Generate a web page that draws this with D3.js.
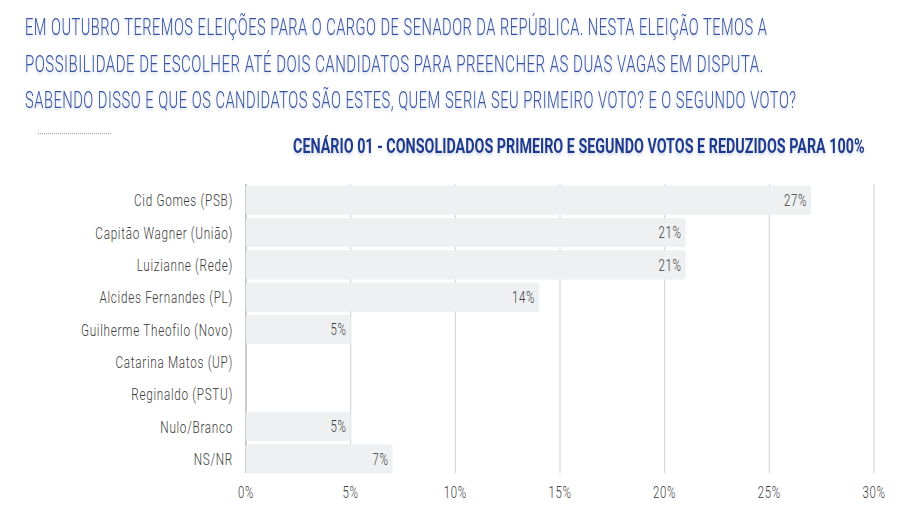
<!DOCTYPE html>
<html>
<head>
<meta charset="utf-8">
<script src="https://cdn.jsdelivr.net/npm/d3@7"></script>
<style>
  body { margin: 0; background: #fff; }
  text { font-family: "Roboto", "DejaVu Sans Condensed", sans-serif; }
</style>
</head>
<body>
<div id="chart"></div>
<script>
const categories = [
    "Cid Gomes (PSB)",
    "Capitão Wagner (União)",
    "Luizianne (Rede)",
    "Alcides Fernandes (PL)",
    "Guilherme Theofilo (Novo)",
    "Catarina Matos (UP)",
    "Reginaldo (PSTU)",
    "Nulo/Branco",
    "NS/NR"
];
const values = [27, 21, 21, 14, 5, 0, 0, 5, 7];
const ticks = [0, 5, 10, 15, 20, 25, 30];

const headerLines = [
    "EM OUTUBRO TEREMOS ELEIÇÕES PARA O CARGO DE SENADOR DA REPÚBLICA. NESTA ELEIÇÃO TEMOS A",
    "POSSIBILIDADE DE ESCOLHER ATÉ DOIS CANDIDATOS PARA PREENCHER AS DUAS VAGAS EM DISPUTA.",
    "SABENDO DISSO E QUE OS CANDIDATOS SÃO ESTES, QUEM SERIA SEU PRIMEIRO VOTO? E O SEGUNDO VOTO?"
];
const headerWidths = [743, 739, 772];
const title = "CENÁRIO 01 - CONSOLIDADOS PRIMEIRO E SEGUNDO VOTOS E REDUZIDOS PARA 100%";

const width = 924;
const height = 517;
const margin = { top: 184, bottom: 42, left: 246, right: 50 };

const svg = d3.select('#chart')
    .append('svg')
    .attr('width', width)
    .attr('height', height);

const defs = svg.append('defs');
const shadow = defs.append('filter').attr('id', 'shadow')
    .attr('x', '-5%').attr('y', '-30%').attr('width', '110%').attr('height', '160%');
shadow.append('feDropShadow')
    .attr('dx', 0).attr('dy', 2).attr('stdDeviation', 1.5)
    .attr('flood-color', '#8a9cc4').attr('flood-opacity', 0.45);

// squeeze text horizontally so it looks like the condensed font of the original
function squeeze(sel, x, y, factor) {
    sel.attr('x', 0).attr('y', 0)
        .attr('transform', (d, i) => `translate(${x(d, i)},${y(d, i)}) scale(${factor(d, i, sel.nodes()[i])},1)`);
}

// header text
const header = svg.append('g')
    .selectAll('text')
    .data(headerLines)
    .join('text')
        .attr('font-size', 24)
        .attr('font-weight', 300)
        .attr('fill', '#3452a4')
        .attr('letter-spacing', 0.8)
        .attr('filter', 'url(#shadow)')
        .text(d => d);
squeeze(header, () => 25, (d, i) => 35 + i * 36.5,
    (d, i, node) => headerWidths[i] / node.getComputedTextLength());

svg.append('line')
    .attr('x1', 38).attr('x2', 112)
    .attr('y1', 133.5).attr('y2', 133.5)
    .attr('stroke', '#8fa0c8')
    .attr('stroke-width', 1)
    .attr('stroke-dasharray', '1,1');

const sub = svg.append('text')
    .attr('font-size', 21)
    .attr('font-weight', 'bold')
    .attr('fill', '#1d3a8e')
    .attr('filter', 'url(#shadow)')
    .text(title);
squeeze(sub, () => 293, () => 153, (d, i, node) => 572 / node.getComputedTextLength());

const x = d3.scaleLinear()
    .domain([0, 30])
    .range([margin.left, width - margin.right]);

const y = d3.scaleBand()
    .domain(categories)
    .range([margin.top, height - margin.bottom])
    .paddingInner(0.1)
    .paddingOuter(0.05);

// grid
svg.append('g')
    .selectAll('line')
    .data(ticks)
    .join('line')
        .attr('x1', d => x(d))
        .attr('x2', d => x(d))
        .attr('y1', margin.top)
        .attr('y2', height - margin.bottom - 2)
        .attr('stroke', d => d === 0 ? '#999' : '#cfcfcf')
        .attr('stroke-width', 1);

// bars
svg.append('g')
    .selectAll('rect')
    .data(values)
    .join('rect')
        .attr('x', x(0))
        .attr('y', (d, i) => y(categories[i]))
        .attr('width', d => x(d) - x(0))
        .attr('height', y.bandwidth())
        .attr('rx', 2)
        .attr('fill', '#eef0f1');

// category labels
const cats = svg.append('g')
    .selectAll('text')
    .data(categories)
    .join('text')
        .attr('dy', '0.36em')
        .attr('text-anchor', 'end')
        .attr('font-size', 17)
        .attr('font-weight', 300)
        .attr('fill', '#3a3a3a')
        .attr('letter-spacing', 1)
        .text(d => d);
const labelFactor = 99 / cats.nodes()[0].getComputedTextLength();
squeeze(cats, () => margin.left - 13, d => y(d) + y.bandwidth() / 2, () => labelFactor);

// value labels
const vals = svg.append('g')
    .selectAll('text')
    .data(values.map((v, i) => ({ v, c: categories[i] })).filter(d => d.v > 0))
    .join('text')
        .attr('dy', '0.36em')
        .attr('text-anchor', 'end')
        .attr('font-size', 16.5)
        .attr('font-weight', 300)
        .attr('fill', '#3a3a3a')
        .attr('letter-spacing', 1)
        .text(d => d.v + '%');
squeeze(vals, d => x(d.v) - 4, d => y(d.c) + y.bandwidth() / 2, () => labelFactor);

// x tick labels
const tks = svg.append('g')
    .selectAll('text')
    .data(ticks)
    .join('text')
        .attr('text-anchor', 'middle')
        .attr('font-size', 16.5)
        .attr('font-weight', 300)
        .attr('fill', '#3a3a3a')
        .attr('letter-spacing', 1)
        .text(d => d + '%');
squeeze(tks, d => x(d), () => 498, () => labelFactor);
</script>
</body>
</html>
